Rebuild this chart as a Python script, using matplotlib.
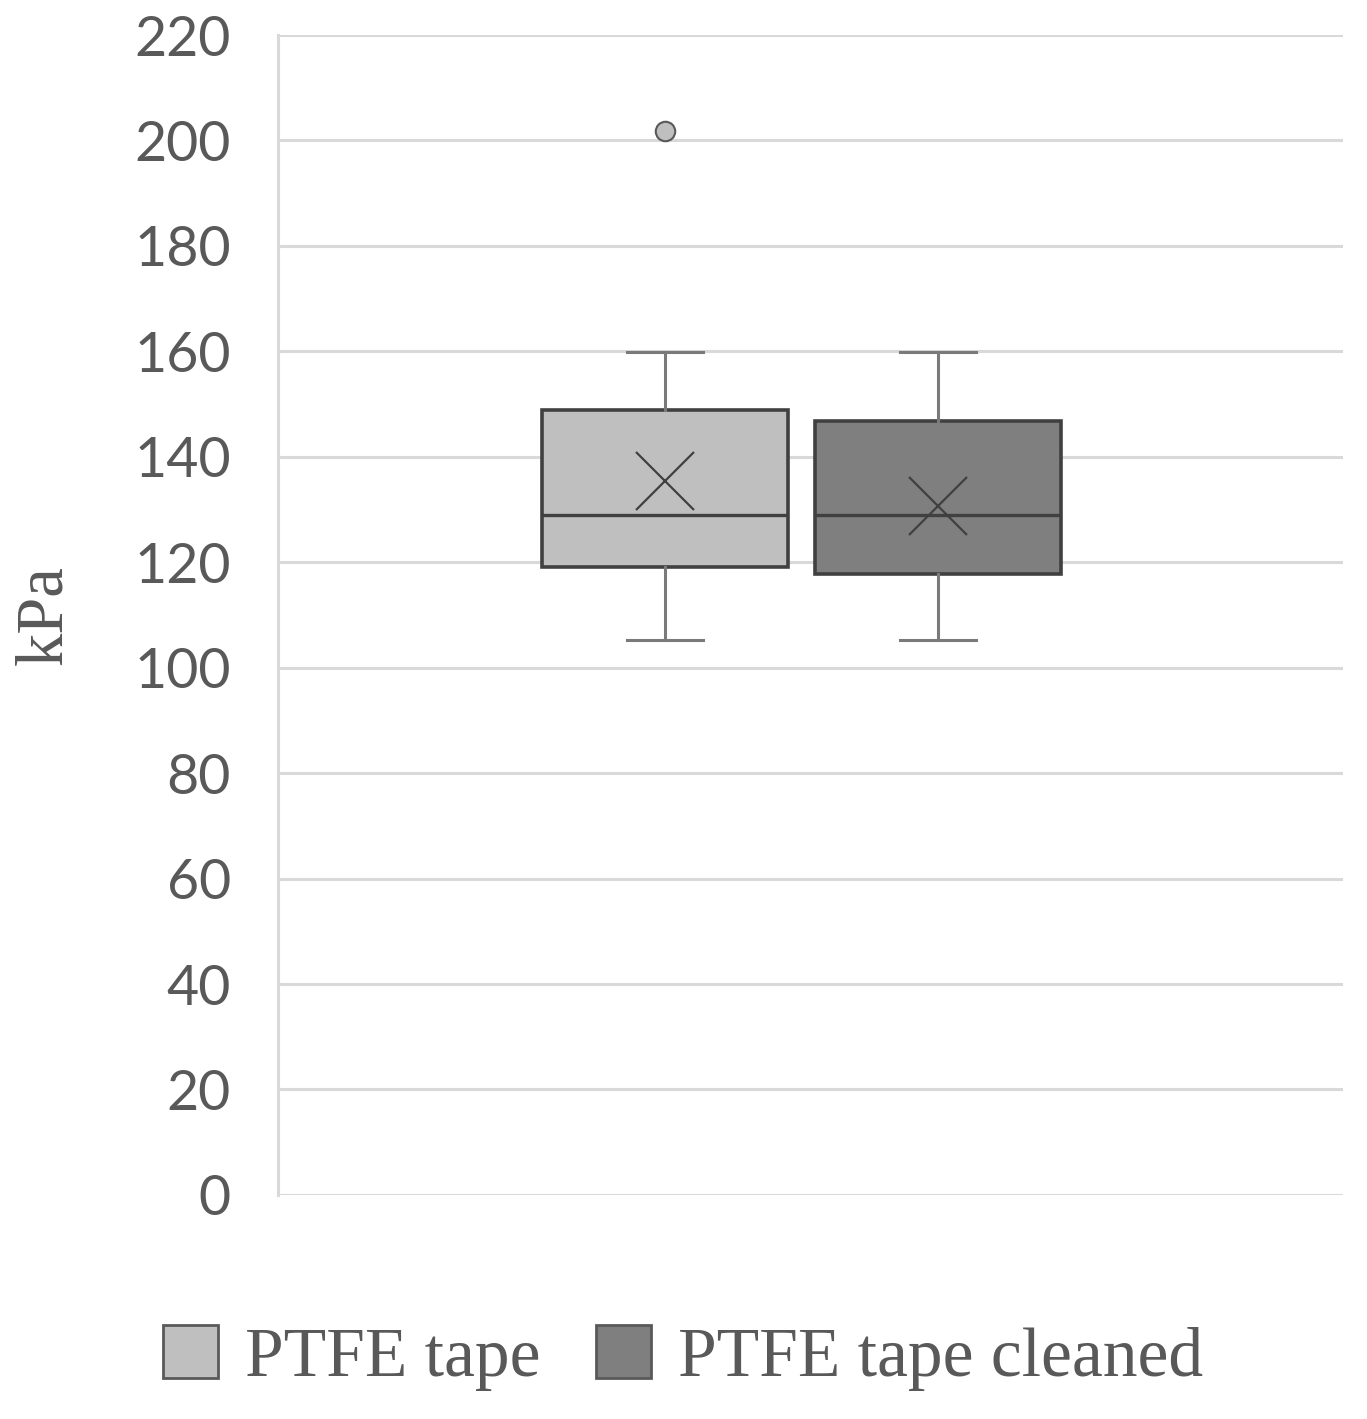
import matplotlib.pyplot as plt
from matplotlib.patches import Patch

# box statistics (kPa)
labels = ["PTFE tape", "PTFE tape cleaned"]
whislo = [105.3, 105.3]
q1 = [119.1, 117.8]
med = [129.0, 129.0]
q3 = [148.9, 146.8]
whishi = [159.8, 159.8]
mean = [135.4, 130.7]
fliers = [[201.8], []]
fills = ["#bfbfbf", "#7f7f7f"]

yticks = list(range(0, 221, 20))

stats = []
for i in range(len(labels)):
    stats.append(dict(label=labels[i], whislo=whislo[i], q1=q1[i], med=med[i],
                      q3=q3[i], whishi=whishi[i], mean=mean[i], fliers=fliers[i]))

fig = plt.figure(figsize=(13.67, 14.19), dpi=100)
ax = fig.add_axes([0.2034, 0.1579, 0.779, 0.8174])

edge = "#404040"
bp = ax.bxp(stats, positions=[0.3634, 0.6197], widths=0.231, patch_artist=True,
            showmeans=True, capwidths=0.072,
            boxprops=dict(edgecolor=edge, linewidth=2.6),
            medianprops=dict(color=edge, linewidth=2.4),
            whiskerprops=dict(color="#7a7a7a", linewidth=2.2),
            capprops=dict(color="#7a7a7a", linewidth=2.2),
            meanprops=dict(marker="x", markersize=42, markeredgecolor=edge,
                           markeredgewidth=1.6),
            flierprops=dict(marker="o", markersize=14, markerfacecolor="#bfbfbf",
                            markeredgecolor="#595959", markeredgewidth=1.5))
for patch, c in zip(bp["boxes"], fills):
    patch.set_facecolor(c)

ax.set_xlim(0, 1)
ax.set_ylim(0, 220)
ax.set_yticks(yticks)
ax.set_xticks([])
ax.yaxis.grid(True, color="#d9d9d9", linewidth=2.2)
ax.set_axisbelow(True)
for s in ["top", "right", "bottom"]:
    ax.spines[s].set_visible(False)
ax.spines["left"].set_color("#d9d9d9")
ax.spines["left"].set_linewidth(2.2)
ax.tick_params(axis="y", length=0, pad=34, labelsize=40, labelcolor="#595959")
for t in ax.get_yticklabels():
    t.set_fontfamily("Lato")

ax.set_ylabel("kPa", fontsize=48, family="Liberation Serif", color="#595959")
ax.yaxis.set_label_coords(-0.19, 0.5)

handles = [Patch(facecolor=c, edgecolor="#595959", linewidth=2) for c in fills]
fig.legend(handles, labels, loc="center", bbox_to_anchor=(0.5, 0.043), ncol=2,
           frameon=False, handlelength=0.78, handleheight=0.78, handletextpad=0.4,
           columnspacing=0.8,
           prop=dict(family="Liberation Serif", size=50), labelcolor="#595959")

fig.savefig("out.png", dpi=100)
